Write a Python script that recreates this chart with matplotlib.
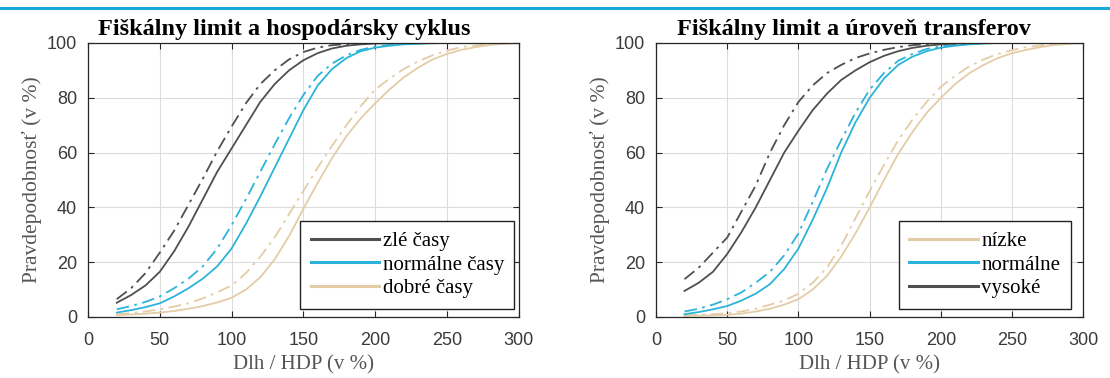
import numpy as np
import matplotlib.pyplot as plt
from matplotlib.lines import Line2D

# debt / GDP grid (in %)
x = [20, 30, 40, 50, 60, 70, 80, 90, 100, 110, 120, 130, 140, 150, 160, 170, 180, 190, 200,
     210, 220, 230, 240, 250, 260, 270, 280, 290, 300]

# left panel - business cycle (solid = main, dash-dot = alternative)
bad_solid = [5.2, 8, 11.5, 16.5, 24, 33, 43, 53, 61.5, 70, 78.5, 85, 90, 93.7, 96.3, 98, 99, 99.5, 99.8,
             99.9, 100, 100, 100, 100, 100, 100, 100, 100, 100]
bad_dash = [6.5, 10.5, 16, 23.5, 31.5, 41, 50.5, 60.5, 69.5, 78, 85, 90, 94, 96.7, 98.3, 99.2, 99.6, 99.8, 100,
            100, 100, 100, 100, 100, 100, 100, 100, 100, 100]
norm_solid = [1.6, 2.5, 3.6, 5, 7.5, 10.5, 14, 18.5, 25, 34, 44, 54.5, 65, 75.5, 84.5, 90.5, 94.5, 97, 98.3,
              99, 99.5, 99.7, 99.9, 100, 100, 100, 100, 100, 100]
norm_dash = [2.8, 4, 5.5, 7.5, 10.5, 14, 18.5, 25, 33.5, 43, 53, 63, 72.5, 81, 88, 92.5, 95.5, 97.5, 98.7,
             99.3, 99.7, 99.9, 100, 100, 100, 100, 100, 100, 100]
good_solid = [0.7, 0.9, 1.2, 1.6, 2.2, 3, 4, 5.3, 7, 10, 14.5, 21, 29.5, 39.5, 49, 58, 66, 72.5, 78,
              83, 87.5, 91, 94, 96, 97.5, 98.5, 99.3, 99.7, 100]
good_dash = [1, 1.4, 2, 2.8, 3.8, 5, 6.8, 9, 11.5, 16, 22, 29, 37.5, 46, 54.5, 62.5, 70, 77, 83,
             87, 90.5, 93.3, 95.5, 97.2, 98.5, 99.1, 99.5, 99.8, 100]

# right panel - level of transfers
low_solid = [0.4, 0.5, 0.6, 0.8, 1.2, 2, 3, 4.5, 6.5, 10, 15, 22, 30.5, 40, 50, 59.5, 67.5, 74.5, 80,
             85, 89, 92, 94.5, 96.3, 97.5, 98.5, 99.3, 99.7, 100]
low_dash = [0.6, 0.8, 1, 1.4, 2, 3, 4.5, 6, 8.5, 12.5, 18, 26, 36, 46, 55.5, 64.5, 72, 78.5, 84,
            88, 91.5, 94, 96, 97.4, 98.5, 99.1, 99.5, 99.8, 100]
mid_solid = [1, 1.8, 2.8, 4, 6, 8.5, 12, 17.5, 25, 35.5, 47, 60, 71, 80, 87, 92, 95, 97, 98.3,
             99, 99.5, 99.8, 100, 100, 100, 100, 100, 100, 100]
mid_dash = [2, 3, 4.5, 6.5, 9, 12.5, 16.5, 22.5, 30.5, 42, 54, 64.5, 74.5, 83, 89, 93.5, 96, 97.8, 98.8,
            99.3, 99.7, 99.9, 100, 100, 100, 100, 100, 100, 100]
high_solid = [9.5, 12.5, 16.5, 23, 31, 40, 50, 60, 68, 75.5, 81.5, 86.5, 90, 93, 95.3, 97, 98.2, 99, 99.5,
              99.8, 100, 100, 100, 100, 100, 100, 100, 100, 100]
high_dash = [13.8, 18, 23.5, 29, 38.5, 48, 60, 70, 78.5, 84.5, 89, 92, 94.5, 96.2, 97.5, 98.5, 99.2, 99.6, 99.8,
             99.9, 100, 100, 100, 100, 100, 100, 100, 100, 100]

dark = '#4f4f4f'
cyan = '#2bb3d9'
tan = '#e4cca6'

fig = plt.figure(figsize=(11.1, 3.78), dpi=100)

# cyan rule at the top of the page
fig.add_artist(Line2D([0, 1], [0.979, 0.979], transform=fig.transFigure, color='#1aa7dc', lw=2.2))

ax1 = fig.add_axes([0.0793, 0.1614, 0.388, 0.7249])
ax2 = fig.add_axes([0.591, 0.1614, 0.385, 0.7249])

panels = [
    (ax1, 'Fiškálny limit a hospodársky cyklus', 0.455,
     [(bad_solid, bad_dash, dark, 'zlé časy'),
      (norm_solid, norm_dash, cyan, 'normálne časy'),
      (good_solid, good_dash, tan, 'dobré časy')],
     (0.99, 0.03)),
    (ax2, 'Fiškálny limit a úroveň transferov', 0.464,
     [(low_solid, low_dash, tan, 'nízke'),
      (mid_solid, mid_dash, cyan, 'normálne'),
      (high_solid, high_dash, dark, 'vysoké')],
     (0.97, 0.03)),
]

for ax, title, tx, series, anchor in panels:
    handles = []
    for ys, yd, c, lab in series:
        h, = ax.plot(x, ys, color=c, lw=1.3, label=lab)
        ax.plot(x, yd, color=c, lw=1.3, ls=(0, (7, 3, 1.5, 3)))
        handles.append(h)
    ax.set_xlim(0, 300)
    ax.set_ylim(0, 100)
    ax.set_xticks([0, 50, 100, 150, 200, 250, 300])
    ax.set_yticks([0, 20, 40, 60, 80, 100])
    ax.grid(True, color='#dcdcdc', lw=0.8)
    ax.set_axisbelow(True)
    ax.tick_params(direction='in', top=True, right=True, length=4, width=0.8,
                   labelsize=13, colors='#262626')
    ax.tick_params(axis='x', pad=11)
    ax.tick_params(axis='y', pad=8)
    for lbl in ax.get_xticklabels() + ax.get_yticklabels():
        lbl.set_family('Liberation Sans')
        lbl.set_color('#3a3a3a')
    for sp in ax.spines.values():
        sp.set_color('#262626')
        sp.set_linewidth(0.9)
    ax.set_title(title, x=tx, family='Liberation Serif', fontweight='bold', fontsize=17.5, pad=6)
    ax.set_xlabel('Dlh / HDP (v %)', family='Liberation Serif', fontsize=15, color='#555555', labelpad=4)
    ax.set_ylabel('Pravdepodobnosť (v %)', family='Liberation Serif', fontsize=15.5, color='#555555', labelpad=3)
    leg = ax.legend(handles=handles, loc='lower right', bbox_to_anchor=anchor,
                    prop={'family': 'Liberation Serif', 'size': 15}, frameon=True, fancybox=False,
                    edgecolor='#222222', framealpha=1, handlelength=3.3, handletextpad=0.15,
                    borderpad=0.5, labelspacing=0.2, borderaxespad=0.0)
    leg.get_frame().set_linewidth(1.0)
    for h in leg.get_lines():
        h.set_linewidth(2.2)

fig.savefig('out.png', dpi=100)
